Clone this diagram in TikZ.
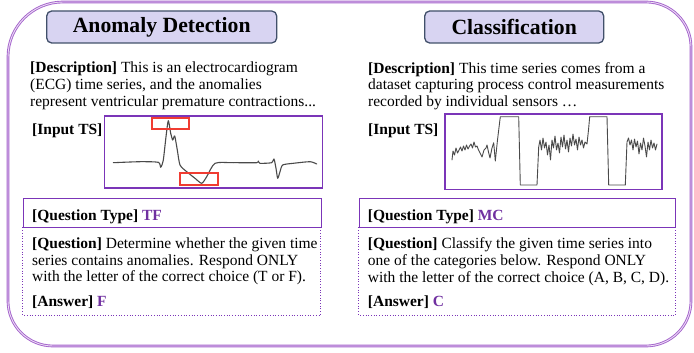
\documentclass[tikz,border=0pt]{standalone}
\usepackage{fontspec}
\setmainfont{Liberation Serif}
\definecolor{framecol}{HTML}{A462CC}
\definecolor{framelight}{HTML}{EBDDF4}
\definecolor{titlefill}{HTML}{D8D4F2}
\definecolor{titledraw}{HTML}{41506A}
\definecolor{qpurple}{HTML}{7030A0}
\definecolor{plotcol}{HTML}{7B35B8}
\definecolor{anomred}{HTML}{F03C32}
\definecolor{tscol}{HTML}{4A4A4A}
\begin{document}
\begin{tikzpicture}[x=1pt,y=-1pt,
  outerframe/.style={draw=framecol,double=framelight,line width=0.9pt,double distance=0.9pt},
  titlebox/.style={draw=titledraw,line width=1.3pt,fill=titlefill,rounded corners=5pt,
    font=\fontsize{21.7}{25}\selectfont\bfseries,inner sep=0pt},
  txt/.style={font=\fontsize{15.5}{16.8}\selectfont,align=left,inner sep=0pt},
  plotbox/.style={draw=plotcol,line width=1.4pt},
  redbox/.style={draw=anomred,line width=1.2pt},
  tsline/.style={draw=tscol,line width=1.1pt,line join=round,line cap=round},
  qtbox/.style={draw=plotcol,line width=0.7pt},
  qbox/.style={draw=plotcol,line width=0.7pt,dotted}]
\useasboundingbox (0,0) rectangle (694,353);

% outer frame
\draw[outerframe] (8,57) arc[start angle=180,end angle=270,radius=55] -- (646,2)
  arc[start angle=270,end angle=360,radius=45] -- (691,301)
  arc[start angle=0,end angle=90,radius=45] -- (53,346)
  arc[start angle=90,end angle=180,radius=45] -- cycle;

% titles
\node[titlebox,minimum width=230pt,minimum height=32pt] (t1) at (161.7,27) {Anomaly Detection};
\node[titlebox,minimum width=179pt,minimum height=32pt] (t2) at (514.2,27) {Classification};

% descriptions
\node[txt,anchor=north west] (d1) at (30,62) {\textbf{[Description]} This is an electrocardiogram\\(ECG) time series, and the anomalies\\represent ventricular premature contractions...};
\node[txt,anchor=north west] (d2) at (368,62) {\textbf{[Description]} This time series comes from a\\dataset capturing process control measurements\\recorded by individual sensors \dots};

% input TS labels
\node[txt,anchor=base west] (i1) at (32,134) {\textbf{[Input TS]}};
\node[txt,anchor=base west] (i2) at (368,134) {\textbf{[Input TS]}};

% plot boxes
\node[plotbox,anchor=north west,minimum width=218pt,minimum height=72pt,inner sep=0pt] (p1) at (104,115.3) {};
\node[plotbox,anchor=north west,minimum width=217pt,minimum height=75.7pt,inner sep=0pt] (p2) at (444.3,113.3) {};

% ECG
\draw[tsline] plot[smooth,tension=0.4] coordinates {(113.3,162.7) (140,161.7) (158.3,162.3) (160.7,167.3) (163.3,160) (166,136.7) (168.3,120.7) (170.7,133.3) (172.7,140) (174.7,136) (177.3,150) (180,165) (186.7,171.7) (195,178.3) (201.7,183.3) (206.7,176.7) (215,163.3) (233.3,162.7) (256.7,162.7) (258.3,161) (260,163.3) (271.7,162.7) (274,159) (276,168.3) (277.7,178.3) (280,171.7) (282.7,165) (293.3,163.3) (310,161.7) (316.7,164)};
\draw[redbox] (152,118) rectangle (189,129);
\draw[redbox] (180,173) rectangle (218,185);

% classification TS
\draw[tsline,line width=0.9pt] (452,160) -- (453,151) -- (454.5,155) -- (456,148) -- (457.5,153) -- (459,150) -- (460.5,147) -- (462,151) -- (463.5,146) -- (465,150) -- (466.5,145) -- (468,149) -- (469.5,146) -- (471,144) -- (472.5,148) -- (474,142) -- (475.5,147) -- (477,146) -- (478.5,150) -- (480,153) -- (482,157) -- (484,150) -- (486,148) -- (487,145) -- (488.5,152) -- (490,158) -- (492,148) -- (493.7,142.7) -- (495.3,161) -- (497.5,140) -- (500.3,116.7)
 -- (518.7,116.7) -- (520.3,185) -- (537,185) -- (538.7,147)
 -- (540,140) -- (541.5,150) -- (543,138) -- (544.5,148) -- (546,142) -- (547.5,155) -- (549,145) -- (550.5,160) -- (552,140) -- (553.5,148) -- (555,136) -- (556.5,150) -- (558,143) -- (559.5,153) -- (561,137) -- (562.5,147) -- (564,135) -- (565.5,149) -- (567,140) -- (568.5,152) -- (570,138) -- (571.5,146) -- (573,134) -- (574.5,145) -- (576,139) -- (577.5,150) -- (579,137) -- (580.5,145) -- (582,140) -- (583.5,148) -- (585,142) -- (587,144) -- (588.5,130) -- (589.7,116.7)
 -- (607,116.7) -- (608.7,185) -- (625.3,185) -- (627,142)
 -- (628.5,138) -- (630,145) -- (631.5,140) -- (633,150) -- (634.5,139) -- (636,147) -- (637.5,141) -- (639,154) -- (640.5,143) -- (642,150) -- (643.5,138) -- (645,146) -- (646.5,157) -- (648,142) -- (649.5,150) -- (651,140) -- (652.5,148) -- (654,143) -- (655.5,150) -- (657,144);

% question type boxes
\node[qtbox,anchor=north west,minimum width=298pt,minimum height=28.4pt,inner sep=0pt] (qt1) at (22.7,198.3) {};
\node[qtbox,anchor=north west,minimum width=316.6pt,minimum height=28.4pt,inner sep=0pt] (qt2) at (358.7,198.3) {};
\node[txt,anchor=base west] (qtt1) at (32,220) {\textbf{[Question Type] \textcolor{qpurple}{TF}}};
\node[txt,anchor=base west] (qtt2) at (367.7,220) {\textbf{[Question Type] \textcolor{qpurple}{MC}}};

% question boxes
\draw[qbox] (qt1.south west) rectangle (320.7,315);
\draw[qbox] (qt2.south west) rectangle (675.3,315);
\node[txt,anchor=north west] (q1) at (32,237.3) {\textbf{[Question]} Determine whether the given time\\series contains anomalies. Respond ONLY\\with the letter of the correct choice (T or F).};
\node[txt,anchor=north west] (q2) at (367.7,237.3) {\textbf{[Question]} Classify the given time series into\\one of the categories below. Respond ONLY\\with the letter of the correct choice (A, B, C, D).};
\node[txt,anchor=base west] (a1) at (32,306.7) {\textbf{[Answer] \textcolor{qpurple}{F}}};
\node[txt,anchor=base west] (a2) at (367.7,306.7) {\textbf{[Answer] \textcolor{qpurple}{C}}};
\end{tikzpicture}
\end{document}
